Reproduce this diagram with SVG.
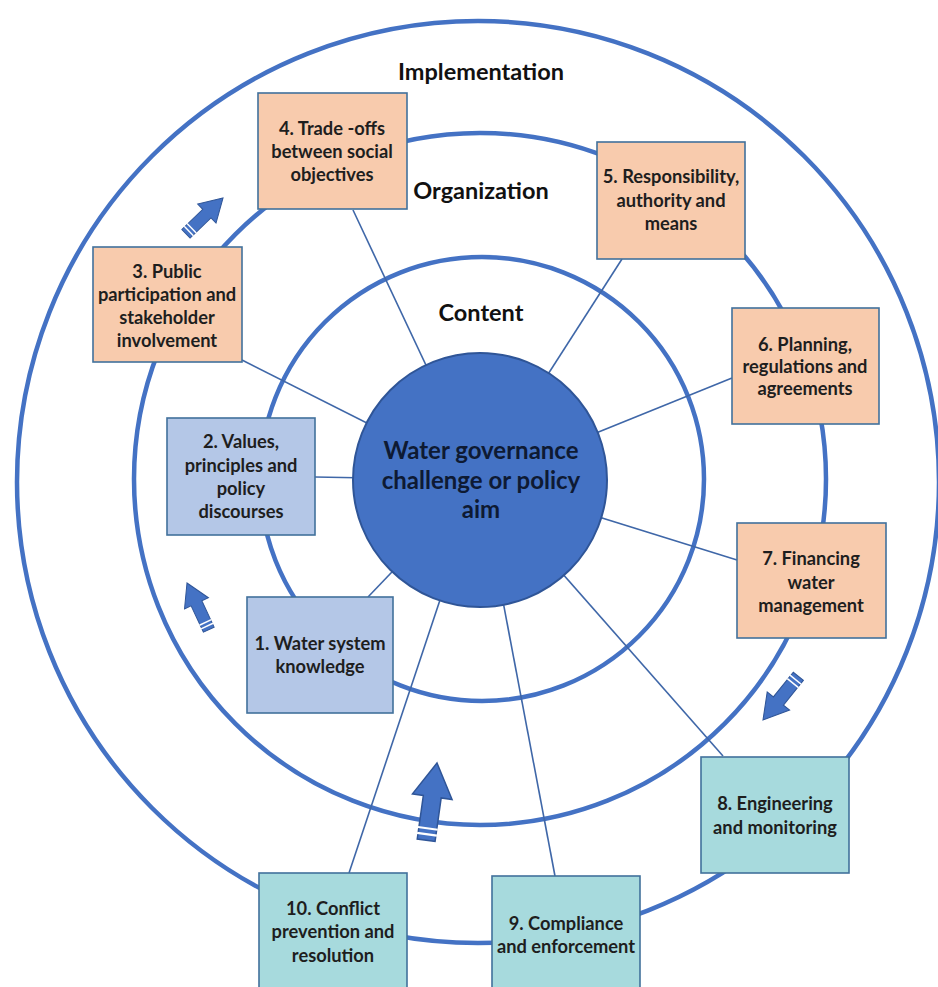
<svg xmlns="http://www.w3.org/2000/svg" width="938" height="987" viewBox="0 0 938 987">
<style>
.ring{fill:none;stroke:#4472C4;stroke-width:4.5}
.spoke{stroke:#3F67A8;stroke-width:1.6;fill:none}
.box{stroke:#41719C;stroke-width:1.6}
.org{fill:#F8CBAD}
.con{fill:#B4C7E7}
.imp{fill:#A7DADD}
.t{font-family:Lato,"Liberation Sans",sans-serif;font-weight:bold;font-size:18.3px;fill:#1E1E1E;text-anchor:middle}
.lab{font-family:Lato,"Liberation Sans",sans-serif;font-weight:bold;font-size:23.5px;fill:#111;text-anchor:middle}
.ctr{font-family:Lato,"Liberation Sans",sans-serif;font-weight:bold;font-size:24px;fill:#0E1A33;text-anchor:middle}
.arr{fill:#4472C4;stroke:#2F5597;stroke-width:1.5}
.stripe{stroke:#fff;stroke-width:2.2}
</style>
<defs>
<g id="blockArrow">
<path class="arr" d="M0,0 L20,34 L9,34 L9,78 L-9,78 L-9,34 L-20,34 Z"/>
<line class="stripe" x1="-10" y1="66" x2="10" y2="66"/>
<line class="stripe" x1="-10" y1="72" x2="10" y2="72"/>
</g>
</defs>
<rect width="938" height="987" fill="#fff"/>
<g id="rings">
<circle class="ring" cx="478" cy="482" r="461"/>
<circle class="ring" cx="480" cy="479" r="346"/>
<circle class="ring" cx="482" cy="479" r="222"/>
</g>
<g id="connectors">
<line class="spoke" x1="353" y1="210" x2="480" y2="480"/>
<line class="spoke" x1="622" y1="259" x2="480" y2="480"/>
<line class="spoke" x1="242" y1="360" x2="480" y2="480"/>
<line class="spoke" x1="315" y1="477" x2="480" y2="480"/>
<line class="spoke" x1="368" y1="597" x2="480" y2="480"/>
<line class="spoke" x1="732" y1="378" x2="480" y2="480"/>
<line class="spoke" x1="737" y1="560" x2="480" y2="480"/>
<line class="spoke" x1="723" y1="756" x2="480" y2="480"/>
<line class="spoke" x1="555" y1="876" x2="480" y2="480"/>
<line class="spoke" x1="349" y1="873" x2="480" y2="480"/>
</g>
<g id="ring-labels">
<text class="lab" x="481" y="80">Implementation</text>
<text class="lab" x="481" y="199">Organization</text>
<text class="lab" x="481" y="321">Content</text>
</g>
<g id="center">
<circle cx="480" cy="480" r="127" fill="#4472C4" stroke="#2F5597" stroke-width="2"/>
<text class="ctr" x="481" y="459">Water governance</text>
<text class="ctr" x="481" y="489">challenge or policy</text>
<text class="ctr" x="481" y="518">aim</text>
</g>
<g id="n1">
<rect class="box con" x="247" y="597" width="146" height="116"/>
<text class="t" x="320" y="650">1. Water system</text>
<text class="t" x="320" y="673">knowledge</text>
</g>
<g id="n2">
<rect class="box con" x="167" y="418" width="148" height="117"/>
<text class="t" x="241" y="448">2. Values,</text>
<text class="t" x="241" y="472">principles and</text>
<text class="t" x="241" y="495">policy</text>
<text class="t" x="241" y="518">discourses</text>
</g>
<g id="n3">
<rect class="box org" x="93" y="247" width="149" height="115"/>
<text class="t" x="167" y="278">3. Public</text>
<text class="t" x="167" y="301">participation and</text>
<text class="t" x="167" y="324">stakeholder</text>
<text class="t" x="167" y="347">involvement</text>
</g>
<g id="n4">
<rect class="box org" x="258" y="93" width="149" height="116"/>
<text class="t" x="332" y="135">4. Trade -offs</text>
<text class="t" x="332" y="158">between social</text>
<text class="t" x="332" y="181">objectives</text>
</g>
<g id="n5">
<rect class="box org" x="597" y="142" width="148" height="117"/>
<text class="t" x="671" y="183">5. Responsibility,</text>
<text class="t" x="671" y="207">authority and</text>
<text class="t" x="671" y="230">means</text>
</g>
<g id="n6">
<rect class="box org" x="732" y="308" width="147" height="116"/>
<text class="t" x="805" y="351">6. Planning,</text>
<text class="t" x="805" y="373">regulations and</text>
<text class="t" x="805" y="395">agreements</text>
</g>
<g id="n7">
<rect class="box org" x="737" y="523" width="149" height="115"/>
<text class="t" x="811" y="565">7. Financing</text>
<text class="t" x="811" y="589">water</text>
<text class="t" x="811" y="612">management</text>
</g>
<g id="n8">
<rect class="box imp" x="701" y="757" width="148" height="116"/>
<text class="t" x="775" y="810">8. Engineering</text>
<text class="t" x="775" y="834">and monitoring</text>
</g>
<g id="n9">
<rect class="box imp" x="492" y="876" width="148" height="120"/>
<text class="t" x="566" y="930">9. Compliance</text>
<text class="t" x="566" y="953">and enforcement</text>
</g>
<g id="n10">
<rect class="box imp" x="259" y="873" width="148" height="120"/>
<text class="t" x="333" y="915">10. Conflict</text>
<text class="t" x="333" y="938">prevention and</text>
<text class="t" x="333" y="962">resolution</text>
</g>
<g id="arrows">
<use href="#blockArrow" transform="translate(223,198) rotate(46) scale(0.66)"/>
<use href="#blockArrow" transform="translate(187,583) rotate(-25) scale(0.66)"/>
<use href="#blockArrow" transform="translate(437,763) rotate(8)"/>
<use href="#blockArrow" transform="translate(763,720) rotate(-141) scale(0.72)"/>
</g>
</svg>
